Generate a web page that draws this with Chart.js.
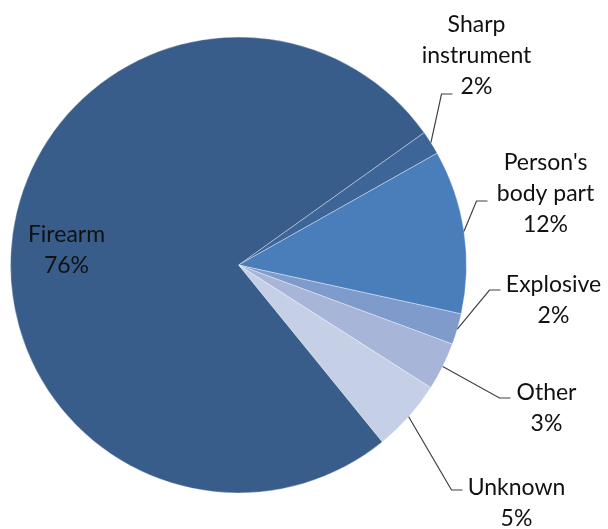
<!DOCTYPE html>
<html>
<head>
<meta charset="utf-8">
<script src="https://cdn.jsdelivr.net/npm/chart.js@4"></script>
<style>
    html, body { margin: 0; padding: 0; background: #ffffff; }
    #wrap { width: 608px; height: 529px; position: relative; }
</style>
</head>
<body>
<div id="wrap"><canvas id="weaponChart"></canvas></div>
<script>
// slice order runs clockwise from the upper right edge
const categories = ['Sharp instrument', "Person's body part", 'Explosive', 'Other', 'Unknown', 'Firearm'];
const shares = [1.7, 11.6, 2.2, 3.4, 5.1, 76.0];
const shareLabels = ['2%', '12%', '2%', '3%', '5%', '76%'];
const labelLines = [['Sharp', 'instrument'], ["Person's", 'body part'], ['Explosive'], ['Other'], ['Unknown'], ['Firearm']];

const sliceColors = ['#3d6598', '#4a7ebb', '#7f9bcb', '#a6b5d8', '#c5cfe5', '#385d8a'];

// where each label sits, relative to the pie centre (px)
// elbow = bend of the leader line, text = centre x and first baseline
const labelPlace = [
    { elbow: [203, -171], text: [238, -233] },
    { elbow: [238, -64], text: [307, -95] },
    { elbow: [251, 25], text: [315, 27] },
    { elbow: [261, 133], text: [308, 135] },
    { elbow: [213, 225], text: [278, 230] },
    { elbow: null, text: [-172, -23] }
];

const lineGap = 31;

const pieLabels = {
    id: 'pieLabels',
    afterDatasetsDraw(chart) {
        const ctx = chart.ctx;
        const arcs = chart.getDatasetMeta(0).data;
        ctx.save();
        ctx.font = '23px Lato';
        ctx.fillStyle = '#111111';
        ctx.textAlign = 'center';
        ctx.textBaseline = 'alphabetic';
        arcs.forEach((arc, i) => {
            const cx = arc.x, cy = arc.y;
            const place = labelPlace[i];
            const lines = labelLines[i].concat([shareLabels[i]]);
            const tx = cx + place.text[0];
            const ty = cy + place.text[1];

            if (place.elbow) {
                const mid = (arc.startAngle + arc.endAngle) / 2;
                const sx = cx + Math.cos(mid) * arc.outerRadius;
                const sy = cy + Math.sin(mid) * arc.outerRadius;
                const ex = cx + place.elbow[0];
                const ey = cy + place.elbow[1];
                ctx.beginPath();
                ctx.strokeStyle = '#404040';
                ctx.lineWidth = 1.2;
                ctx.moveTo(sx, sy);
                ctx.lineTo(ex, ey);
                ctx.lineTo(ex + 11, ey);
                ctx.stroke();
            }

            lines.forEach((txt, k) => {
                ctx.fillText(txt, tx, ty + k * lineGap);
            });
        });
        ctx.restore();
    }
};

new Chart(document.getElementById('weaponChart'), {
    type: 'pie',
    data: {
        labels: categories,
        datasets: [{
            data: shares,
            backgroundColor: sliceColors,
            borderColor: 'rgba(255,255,255,0.35)',
            borderWidth: 1
        }]
    },
    options: {
        responsive: true,
        maintainAspectRatio: false,
        animation: false,
        rotation: 54.5,
        layout: {
            padding: { left: 10, right: 141, top: 36, bottom: 35 }
        },
        plugins: {
            legend: { display: false },
            tooltip: { enabled: false }
        }
    },
    plugins: [pieLabels]
});
</script>
</body>
</html>
